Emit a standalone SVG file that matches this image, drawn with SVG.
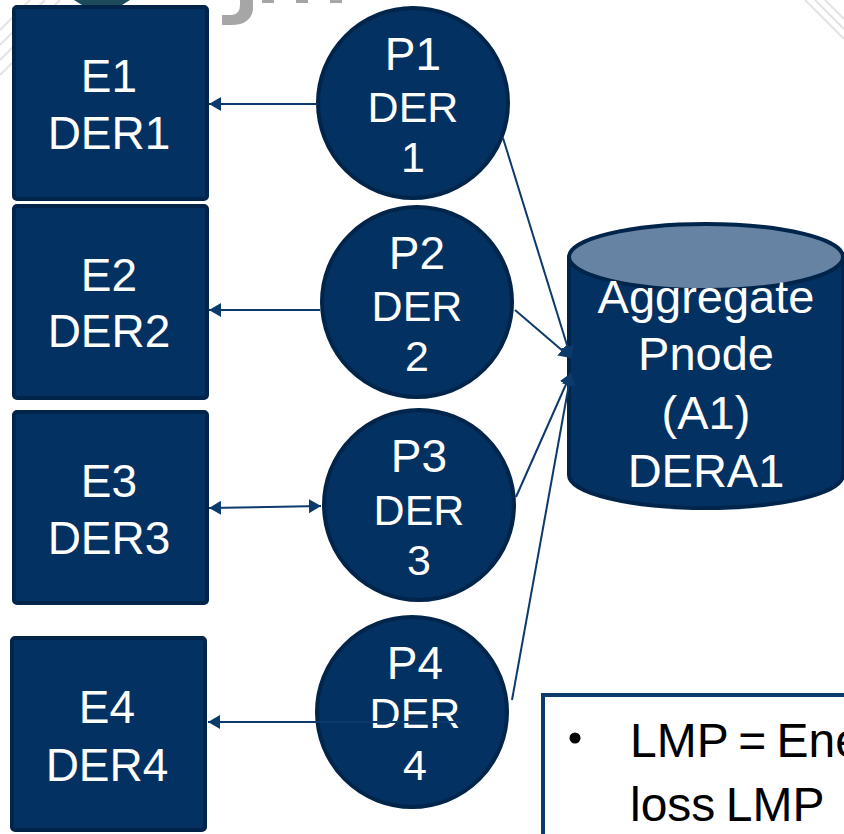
<svg xmlns="http://www.w3.org/2000/svg" width="844" height="834" viewBox="0 0 844 834">
<defs>
<style>
.box{fill:#033162;stroke:#01244a;stroke-width:4}
.pn{fill:#033162;stroke:#01244a;stroke-width:4}
.t{font-family:"Liberation Sans",Arial,sans-serif;fill:#ffffff;text-anchor:middle}
.tb{font-size:46px}
.tp{font-size:46px}
.td{font-size:43px}
.ta{font-size:47px}
.c{fill:none;stroke:#0b3a6b;stroke-width:2}
.hatch{stroke:#d9d9d9;stroke-width:2;opacity:0.7}
.note{font-family:"Liberation Sans",Arial,sans-serif;font-size:48px;fill:#000000;word-spacing:-3px}
</style>
<marker id="ah" viewBox="0 0 12 14" refX="12" refY="7" markerWidth="12" markerHeight="14" markerUnits="userSpaceOnUse" orient="auto-start-reverse">
<path d="M0,0 L12,7 L0,14 Z" fill="#0b3a6b"/>
</marker>
</defs>
<rect width="844" height="834" fill="#ffffff"/>
<g id="background">
<line class="hatch" x1="0" y1="30" x2="30" y2="0"/>
<line class="hatch" x1="0" y1="45" x2="45" y2="0"/>
<line class="hatch" x1="0" y1="60" x2="60" y2="0"/>
<line class="hatch" x1="0" y1="75" x2="12" y2="63"/>
<line class="hatch" x1="815" y1="0" x2="844" y2="29"/>
<line class="hatch" x1="825" y1="0" x2="844" y2="19"/>
<line class="hatch" x1="805" y1="0" x2="844" y2="39"/>
<path d="M74,0 L130,0 L122,5 L82,5 Z" fill="#1b4a5a"/>
<path d="M240,0 L253,0 L253,10 Q250,25 232,25 L222,25 L222,15 L232,15 Q240,14 240,5 Z" fill="#a6a6a6"/>
<rect x="262" y="0" width="12" height="3" fill="#a6a6a6"/>
<rect x="296" y="0" width="12" height="3" fill="#a6a6a6"/>
<rect x="330" y="0" width="12" height="3" fill="#a6a6a6"/>
</g>
<g id="E1"><rect class="box" x="14" y="7" width="193" height="192" rx="3"/><text class="t tb" x="109" y="92">E1</text><text class="t tb" x="109" y="149">DER1</text></g>
<g id="E2"><rect class="box" x="14" y="206" width="193" height="192" rx="3"/><text class="t tb" x="109" y="291">E2</text><text class="t tb" x="109" y="347">DER2</text></g>
<g id="E3"><rect class="box" x="14" y="412" width="193" height="191" rx="3"/><text class="t tb" x="109" y="497">E3</text><text class="t tb" x="109" y="554">DER3</text></g>
<g id="E4"><rect class="box" x="12" y="638" width="193" height="192" rx="3"/><text class="t tb" x="107" y="723">E4</text><text class="t tb" x="107" y="781">DER4</text></g>
<g id="P1"><circle class="pn" cx="413" cy="103" r="95"/><text class="t tp" x="413" y="70">P1</text><text class="t td" x="413" y="122">DER</text><text class="t td" x="413" y="172">1</text></g>
<g id="P2"><circle class="pn" cx="417" cy="302" r="95"/><text class="t tp" x="417" y="269">P2</text><text class="t td" x="417" y="321">DER</text><text class="t td" x="417" y="371">2</text></g>
<g id="P3"><circle class="pn" cx="419" cy="505" r="95"/><text class="t tp" x="419" y="472">P3</text><text class="t td" x="419" y="525">DER</text><text class="t td" x="419" y="575">3</text></g>
<g id="P4"><circle class="pn" cx="412" cy="712" r="95"/><text class="t tp" x="415" y="679">P4</text><text class="t td" x="415" y="728">DER</text><text class="t td" x="415" y="780">4</text></g>
<g id="A1">
<path d="M569,257 L569,475 A137,33 0 0 0 843,475 L843,257" fill="#033162" stroke="#01244a" stroke-width="4"/>
<ellipse cx="706" cy="257" rx="137" ry="33" fill="#6683a3" stroke="#01244a" stroke-width="4"/>
<text class="t ta" x="706" y="313">Aggregate</text>
<text class="t ta" x="706" y="370">Pnode</text>
<text class="t ta" x="706" y="429">(A1)</text>
<text class="t ta" x="706" y="487">DERA1</text>
</g>
<g id="connectors">
<line class="c" x1="318" y1="104" x2="209" y2="104" marker-end="url(#ah)"/>
<line class="c" x1="320" y1="310" x2="209" y2="310" marker-end="url(#ah)"/>
<line class="c" x1="209" y1="508" x2="321" y2="506" marker-start="url(#ah)" marker-end="url(#ah)"/>
<line class="c" x1="462" y1="722" x2="208" y2="722" marker-end="url(#ah)"/>
<line class="c" x1="503" y1="138" x2="571" y2="358" marker-end="url(#ah)"/>
<line class="c" x1="515" y1="310" x2="571" y2="358" marker-end="url(#ah)"/>
<line class="c" x1="516" y1="497" x2="571" y2="373" marker-end="url(#ah)"/>
<line class="c" x1="512" y1="700" x2="571" y2="373" marker-end="url(#ah)"/>
</g>
<g id="note">
<rect x="543" y="695" width="310" height="150" fill="#ffffff" stroke="#0b3a6b" stroke-width="4"/>
<circle cx="575" cy="738" r="5.5" fill="#000000"/>
<text class="note" x="630" y="757">LMP = Energy</text>
<text class="note" x="630" y="821">loss LMP</text>
</g>
</svg>
